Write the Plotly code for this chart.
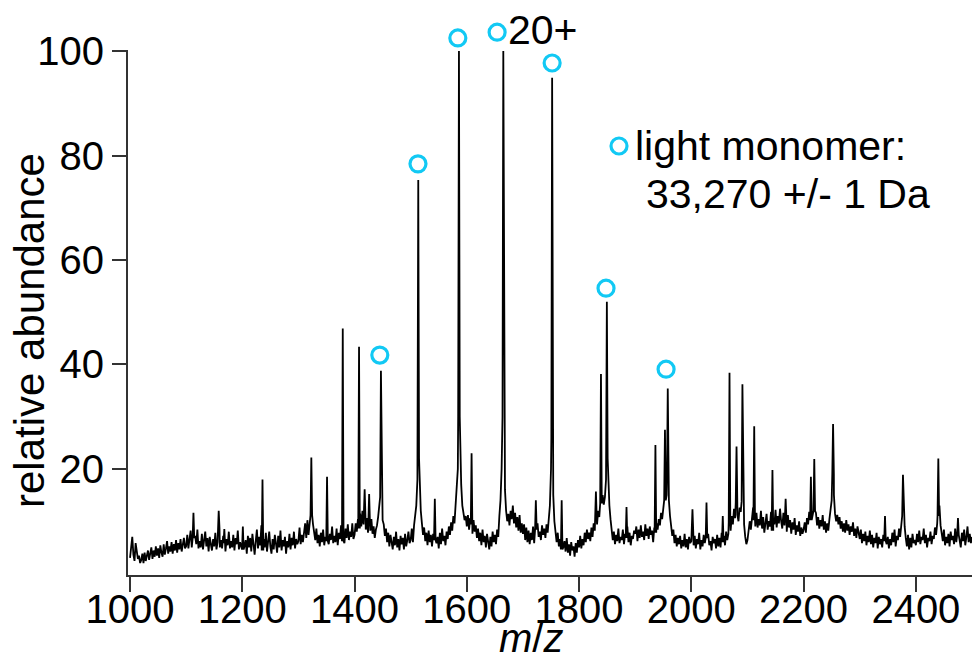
import numpy as np
import plotly.graph_objects as go

# ---------------- data ----------------
# baseline (noise) samples every 2 m/z from 1000 to 2500
base_start, base_step = 1000, 2
baseline = [
    # 1000-1098
    3.0, 5.0, 7.0, 3.6, 2.4, 5.8, 4.6, 2.8, 3.4, 2.0, 2.6, 3.8, 2.0, 4.0, 2.4, 3.2, 4.4, 2.6, 3.6, 5.0,
    2.8, 4.4, 3.2, 5.2, 3.4, 4.8, 3.0, 5.4, 4.0, 3.2, 5.6, 3.6, 4.8, 6.2, 3.8, 5.2, 4.2, 6.0, 3.8, 5.6,
    4.4, 6.4, 4.0, 5.8, 4.6, 6.6, 4.2, 5.4, 6.8, 4.8,
    # 1100-1198
    5.2, 7.4, 4.8, 6.6, 8.2, 5.0, 6.8, 4.4, 7.2, 5.6, 8.4, 4.8, 6.2, 5.0, 7.6, 4.6, 6.4, 8.0, 5.2, 6.8,
    4.2, 7.0, 5.6, 4.4, 6.6, 5.2, 7.8, 4.6, 6.0, 8.6, 5.0, 6.4, 4.8, 7.2, 5.8, 4.2, 6.6, 5.4, 8.0, 4.8,
    6.2, 5.0, 7.4, 4.4, 6.8, 5.6, 8.2, 4.6, 6.0, 5.4,
    # 1200-1298
    4.6, 8.8, 5.2, 6.4, 3.8, 7.2, 5.0, 6.8, 4.2, 7.6, 5.6, 3.6, 6.2, 8.4, 4.8, 7.0, 5.4, 9.2, 4.4, 6.6,
    5.0, 7.8, 4.2, 6.0, 8.0, 5.2, 3.8, 6.6, 4.6, 7.4, 5.8, 4.0, 7.2, 5.0, 8.2, 4.4, 6.4, 5.2, 7.0, 3.8,
    6.2, 5.0, 7.6, 4.6, 6.8, 5.4, 8.0, 4.8, 6.6, 5.6,
    # 1300-1398
    6.2, 8.8, 5.6, 7.4, 6.0, 8.2, 9.6, 6.8, 10.2, 7.4, 9.8, 11.2, 8.0, 9.4, 7.2, 6.4, 8.6, 5.8, 7.4, 5.2,
    7.8, 6.0, 8.4, 5.4, 7.0, 6.2, 8.8, 5.6, 7.6, 6.4, 9.0, 5.8, 7.2, 6.0, 8.6, 5.4, 7.8, 6.6, 9.2, 6.2,
    7.4, 5.8, 8.6, 6.8, 9.4, 6.4, 8.0, 7.0, 9.6, 6.6,
    # 1400-1498
    7.4, 9.6, 8.0, 10.4, 8.6, 11.4, 9.0, 12.0, 9.4, 11.0, 8.4, 10.6, 7.8, 9.8, 8.2, 10.4, 7.6, 9.0, 6.8, 8.4,
    9.2, 10.8, 12.4, 14.6, 12.8, 10.2, 9.4, 7.2, 8.6, 6.0, 7.8, 5.2, 7.4, 5.8, 4.6, 7.0, 5.4, 8.0, 5.0, 6.6,
    4.4, 7.2, 5.6, 6.8, 4.6, 7.6, 5.2, 6.4, 8.0, 5.8,
    # 1500-1598
    6.4, 8.6, 6.0, 9.2, 10.8, 13.0, 18.0, 22.0, 16.0, 12.0, 9.6, 7.4, 8.8, 6.2, 7.8, 5.4, 8.2, 6.0, 7.4, 5.2,
    7.6, 6.4, 8.4, 5.8, 7.0, 4.8, 7.8, 5.6, 8.6, 6.2, 7.2, 5.4, 8.0, 6.6, 9.0, 7.4, 9.8, 8.2, 11.0, 9.6,
    12.8, 15.4, 20.0, 30.0, 24.0, 17.0, 13.0, 11.4, 10.2, 11.0,
    # 1600-1698
    9.0, 11.2, 8.4, 10.6, 9.4, 7.6, 10.2, 8.0, 9.2, 6.8, 8.6, 6.2, 7.8, 5.4, 8.4, 6.0, 7.2, 5.0, 7.6, 5.8,
    4.6, 7.0, 5.2, 8.0, 6.0, 7.4, 5.6, 8.4, 7.0, 11.0, 14.0, 20.0, 30.0, 24.0, 16.0, 12.0, 10.0, 11.4, 9.2, 12.0,
    10.4, 13.0, 9.6, 11.6, 8.8, 10.8, 8.2, 11.2, 7.8, 9.6,
    # 1700-1798
    7.6, 9.4, 6.4, 8.8, 6.0, 8.2, 5.6, 7.8, 6.4, 9.0, 5.8, 8.4, 6.2, 9.6, 7.0, 8.0, 6.4, 9.2, 7.4, 8.6,
    6.8, 9.4, 7.8, 10.4, 13.0, 20.0, 26.0, 15.0, 10.0, 7.6, 6.0, 7.8, 5.2, 6.6, 4.6, 7.4, 5.0, 6.2, 4.2, 6.8,
    4.0, 5.6, 3.4, 6.0, 4.4, 5.2, 3.2, 5.8, 4.0, 6.4,
    # 1800-1898
    5.0, 7.2, 4.8, 6.6, 5.4, 7.8, 6.0, 8.4, 6.6, 7.8, 6.2, 8.8, 7.0, 9.6, 8.2, 10.6, 9.4, 12.0, 10.8, 13.4,
    12.4, 15.0, 13.2, 14.6, 18.0, 22.0, 17.0, 13.0, 10.4, 8.2, 6.4, 8.0, 5.6, 7.4, 6.2, 8.6, 5.8, 7.0, 6.4, 8.4,
    5.6, 7.6, 6.8, 9.0, 6.0, 7.8, 5.4, 7.2, 6.6, 8.2,
    # 1900-1998
    7.6, 9.0, 6.2, 8.4, 6.8, 9.2, 7.0, 8.0, 6.4, 9.4, 7.2, 8.6, 6.6, 9.0, 7.4, 8.2, 6.0, 8.8, 7.8, 9.6,
    8.4, 10.4, 9.2, 11.6, 10.4, 12.8, 14.0, 16.0, 15.0, 18.0, 14.0, 11.0, 9.0, 7.2, 8.4, 5.8, 7.4, 5.2, 6.8, 5.6,
    7.2, 4.8, 6.4, 5.2, 7.6, 5.0, 6.6, 4.6, 7.0, 5.8,
    # 2000-2098
    6.2, 8.0, 5.4, 7.2, 4.8, 6.6, 5.6, 7.8, 4.6, 6.4, 5.2, 7.4, 5.8, 6.8, 4.6, 7.6, 5.4, 6.2, 4.4, 7.0,
    5.8, 6.6, 4.8, 7.4, 5.2, 6.8, 5.0, 7.8, 6.0, 7.2, 5.4, 8.0, 6.4, 7.6, 9.8, 8.2, 11.0, 9.4, 12.4, 10.6,
    13.6, 11.2, 10.0, 12.6, 11.8, 13.8, 12.2, 9.4, 7.0, 5.6,
    # 2100-2198
    6.4, 8.6, 10.0, 8.4, 11.2, 12.6, 10.2, 9.0, 11.6, 8.8, 10.4, 9.2, 12.0, 8.6, 10.8, 7.8, 9.6, 11.4, 8.4, 10.0,
    9.0, 11.8, 8.2, 10.6, 9.4, 12.2, 8.8, 11.0, 9.6, 12.4, 10.0, 8.6, 11.6, 9.2, 10.4, 8.0, 11.2, 8.8, 10.2, 7.6,
    9.8, 8.4, 10.6, 7.4, 9.2, 8.0, 10.0, 7.2, 8.8, 7.6,
    # 2200-2298
    8.4, 9.8, 7.8, 10.6, 9.4, 11.8, 10.2, 12.6, 11.0, 12.0, 10.4, 11.6, 9.2, 10.8, 8.6, 10.2, 9.0, 11.2, 8.4, 10.0,
    7.8, 9.6, 8.2, 10.4, 12.0, 14.0, 19.0, 15.0, 11.4, 10.0, 11.2, 9.4, 10.8, 8.6, 10.0, 8.0, 9.6, 7.8, 10.2, 8.2,
    9.4, 7.4, 9.0, 8.0, 9.8, 7.2, 8.6, 6.8, 9.0, 7.6,
    # 2300-2398
    6.6, 8.4, 5.8, 7.6, 6.2, 8.0, 5.4, 7.2, 6.0, 8.2, 5.6, 7.4, 5.0, 6.8, 5.8, 7.8, 4.8, 7.0, 5.6, 6.6,
    5.0, 7.4, 6.2, 8.2, 5.6, 7.0, 4.8, 6.6, 5.4, 7.8, 6.0, 8.4, 5.2, 7.2, 6.4, 8.6, 7.0, 9.2, 11.0, 12.4,
    9.0, 6.8, 5.2, 7.4, 4.6, 6.8, 5.0, 7.6, 5.8, 6.4,
    # 2400-2500
    5.4, 7.6, 6.0, 8.2, 5.6, 7.0, 6.4, 8.6, 5.8, 7.4, 5.0, 6.8, 6.2, 8.0, 5.6, 7.2, 6.6, 8.8, 7.4, 9.6,
    11.0, 13.0, 9.2, 7.8, 6.2, 8.4, 5.4, 7.0, 5.8, 7.6, 5.2, 8.0, 6.4, 7.2, 5.6, 8.6, 6.0, 7.4, 9.4, 6.4,
    5.0, 7.8, 6.2, 8.4, 5.4, 7.0, 9.0, 6.0, 7.6, 5.8,
    7.0,
]

# sharp peaks (m/z, relative abundance)
peak_mz = [1113, 1158, 1168, 1201, 1236, 1323, 1351, 1379, 1408, 1418, 1426, 1447,
           1513.5, 1543, 1586, 1608.5, 1665, 1723, 1752, 1769, 1830, 1839, 1849.5,
           1884.5, 1936, 1953, 1958, 2002, 2027, 2056, 2068, 2080.5, 2091, 2112,
           2144.5, 2168, 2213, 2219, 2252.5, 2345, 2377, 2440, 2475]
peak_height = [11.6, 12.0, 8.5, 9.0, 18.0, 22.2, 18.5, 46.9, 43.4, 16.1, 15.2, 38.8,
               75.3, 14.3, 100.0, 23.0, 100.0, 14.0, 94.9, 14.0, 15.7, 38.2, 52.0,
               12.7, 24.6, 27.5, 35.4, 12.3, 13.6, 11.0, 38.4, 24.3, 36.2, 28.2,
               19.8, 14.3, 18.5, 21.9, 28.6, 11.0, 18.9, 22.0, 10.6]

# light monomer charge-state markers
marker_mz = [1445, 1513, 1584, 1654, 1752, 1848, 1955]
marker_y = [41.8, 78.4, 102.5, 103.6, 97.7, 54.6, 39.1]

x_ticks = [1000, 1200, 1400, 1600, 1800, 2000, 2200, 2400]
y_ticks = [20, 40, 60, 80, 100]

# ---------------- build spectrum line ----------------
base_mz = base_start + base_step * np.arange(len(baseline))
base_y = np.array(baseline)
hw = 1.4
keep = np.ones(len(base_mz), bool)
pts = []
for c, h in zip(peak_mz, peak_height):
    keep &= ~((base_mz > c - hw) & (base_mz < c + hw))
    foot = base_y[np.argmin(np.abs(base_mz - c))]
    pts += [(c - hw, foot), (c, h), (c + hw, foot)]
pts += list(zip(base_mz[keep], base_y[keep]))
pts.sort(key=lambda p: p[0])
sx = [p[0] for p in pts]
sy = [p[1] for p in pts]

FONT = "Liberation Sans, Arial, Helvetica, sans-serif"
CYAN = "#12C9F4"
AX = "#333333"

W, H = 974, 662
L, R, T, B = 128, 2, 20, 87
pw, ph = W - L - R, H - T - B
Y_BOTTOM_PX, Y100_PX = 575, 51
units_per_px = 100.29 / (Y_BOTTOM_PX - Y100_PX)
y_top = -0.29 + ph * units_per_px


def px(xp):
    return (xp - L) / pw


def py(yp):
    return (H - B - yp) / ph


fig = go.Figure()
fig.add_trace(go.Scatter(x=sx, y=sy, mode="lines",
                         line=dict(color="black", width=1.8), hoverinfo="skip"))
fig.add_trace(go.Scatter(x=marker_mz, y=marker_y, mode="markers", cliponaxis=False,
                         marker=dict(symbol="circle-open", size=16, color=CYAN,
                                     line=dict(width=3.2, color=CYAN))))
fig.add_trace(go.Scatter(x=[px(619)], y=[py(146)], xaxis="x2", yaxis="y2",
                         mode="markers", cliponaxis=False,
                         marker=dict(symbol="circle-open", size=16, color=CYAN,
                                     line=dict(width=3.2, color=CYAN))))

anns = [
    dict(text="20+", x=px(506), y=py(30), xanchor="left", yanchor="middle", size=41),
    dict(text="light monomer:", x=px(633), y=py(146), xanchor="left", yanchor="middle", size=41),
    dict(text="33,270 +/- 1 Da", x=px(644), y=py(194), xanchor="left", yanchor="middle", size=41),
    dict(text="<i>m</i>/<i>z</i>", x=px(531), y=py(662), xanchor="center", yanchor="bottom", size=40),
]
annotations = []
for a in anns:
    annotations.append(dict(text=a["text"], x=a["x"], y=a["y"], xref="paper", yref="paper",
                            xanchor=a["xanchor"], yanchor=a["yanchor"], showarrow=False,
                            font=dict(family=FONT, size=a["size"], color="black")))
annotations.append(dict(text="relative abundance", x=px(29), y=py(331), xref="paper", yref="paper",
                        xanchor="center", yanchor="middle", showarrow=False, textangle=-90,
                        font=dict(family=FONT, size=42, color="black")))

# y-axis line only from 0 to 100 (as in the reference)
shapes = [dict(type="line", xref="paper", yref="paper",
               x0=-1 / pw, x1=-1 / pw, y0=py(577), y1=py(50),
               line=dict(color=AX, width=2))]

fig.update_layout(
    width=W, height=H, margin=dict(l=L, r=R, t=T, b=B),
    paper_bgcolor="white", plot_bgcolor="white", showlegend=False,
    font=dict(family=FONT, size=40, color="black"),
    xaxis=dict(range=[996.4, 2500], tickvals=x_ticks, ticks="outside", ticklen=15,
               tickwidth=2, tickcolor=AX, showline=True, linecolor=AX, linewidth=2,
               showgrid=False, zeroline=False, ticklabelstandoff=-17,
               tickfont=dict(size=40, family=FONT)),
    yaxis=dict(range=[-0.29, y_top], tickvals=y_ticks, ticks="outside", ticklen=15,
               tickwidth=2, tickcolor=AX, showline=False,
               showgrid=False, zeroline=False, tickfont=dict(size=40, family=FONT)),
    xaxis2=dict(range=[0, 1], overlaying="x", visible=False),
    yaxis2=dict(range=[0, 1], overlaying="y", visible=False),
    annotations=annotations, shapes=shapes,
)

fig.write_html("out.html")
